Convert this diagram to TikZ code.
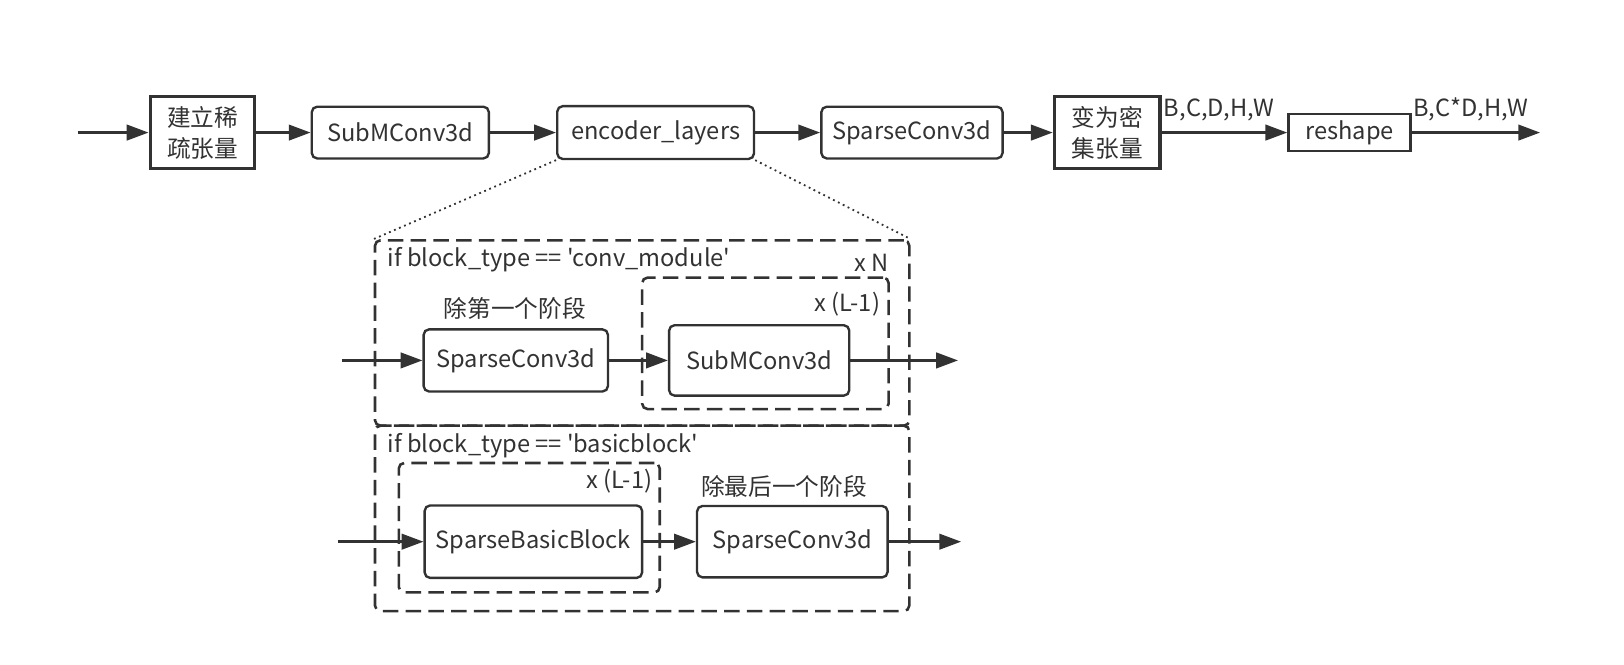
\documentclass[tikz,border=0pt]{standalone}
\usepackage{fontspec}
\setmainfont{Noto Sans CJK SC}[Ligatures=TeXOff]
\usetikzlibrary{arrows.meta}
\definecolor{ink}{HTML}{323232}
\tikzset{
  op/.style={draw, rounded corners=3pt, line width=1.3pt, inner sep=0pt},
  tensor/.style={draw, line width=1.8pt, inner sep=0pt, align=center},
  group/.style={draw, rounded corners=3pt, line width=1.4pt, dash pattern=on 8.5pt off 4pt},
  dots/.style={line width=1pt, dash pattern=on 1pt off 2pt},
  flow/.style={line width=1.5pt, -{Triangle[length=12pt,width=8.5pt]}},
  lbl/.style={inner sep=0pt},
}
\begin{document}
\begin{tikzpicture}[x=0.02cm, y=-0.02cm, color=ink, font=\fontsize{13}{17}\selectfont]
  \useasboundingbox (0,0) rectangle (1568,642);
  % main pipeline
  \coordinate (in) at (75,128);
  \node[tensor, minimum width=2.02cm, minimum height=1.4cm] (tosparse) at (195.5,128) {建立稀\\疏张量};
  \node[op, minimum width=3.42cm, minimum height=1cm] (subm0) at (386.5,128) {SubMConv3d};
  \node[op, minimum width=3.8cm, minimum height=1.02cm] (enc) at (633,128) {encoder\_layers};
  \node[op, minimum width=3.5cm, minimum height=1cm] (down0) at (880.5,128) {SparseConv3d};
  \node[tensor, minimum width=2.04cm, minimum height=1.4cm] (todense) at (1069,128) {变为密\\集张量};
  \node[draw, line width=1.3pt, minimum width=2.36cm, minimum height=0.72cm, inner sep=0pt] (reshape) at (1303,128) {reshape};
  \coordinate (out) at (1487,128);
  \node[lbl] (dense) at (1177,106) {B,C,D,H,W};
  \node[lbl] (flat) at (1420,106) {B,C*D,H,W};
  \draw[flow] (in) -- (tosparse);
  \draw[flow] (tosparse) -- (subm0);
  \draw[flow] (subm0) -- (enc);
  \draw[flow] (enc) -- (down0);
  \draw[flow] (down0) -- (todense);
  \draw[flow] (todense) -- (reshape);
  \draw[flow] (reshape) -- (out);

  % encoder_layers detail
  \node[group, minimum width=10.32cm, minimum height=3.58cm] (convgrp) at (620,321.5) {};
  \node[group, dash phase=6pt, minimum width=10.32cm, minimum height=3.58cm] (basicgrp) at (620,500.5) {};
  \draw[dots] (enc.south west) -- (convgrp.north west);
  \draw[dots] (enc.south east) -- (convgrp.north east);

  % conv_module
  \node[lbl, anchor=west] (convcond) at (374,251) {if block\_type == 'conv\_module'};
  \node[lbl, anchor=east] (convrep) at (858,254) {x N};
  \node[group, minimum width=4.76cm, minimum height=2.54cm] (subloop) at (739,331.5) {};
  \node[lbl, anchor=east] (subrep) at (850,294) {x (L-1)};
  \node[lbl] (firstnote) at (497,298) {除第一个阶段};
  \node[op, minimum width=3.56cm, minimum height=1.2cm] (down1) at (498,348) {SparseConv3d};
  \node[op, minimum width=3.48cm, minimum height=1.36cm] (subm1) at (733,348) {SubMConv3d};
  \coordinate (convin) at (330,348);
  \coordinate (convout) at (925,348);
  \draw[flow] (convin) -- (down1);
  \draw[flow] (down1) -- (subm1);
  \draw[flow] (subm1) -- (convout);

  % basicblock
  \node[lbl, anchor=west] (basiccond) at (374,430) {if block\_type == 'basicblock'};
  \node[group, minimum width=5.04cm, minimum height=2.5cm] (blockloop) at (511,509.5) {};
  \node[lbl, anchor=east] (blockrep) at (630,465) {x (L-1)};
  \node[op, minimum width=4.2cm, minimum height=1.4cm] (block) at (515,523) {SparseBasicBlock};
  \node[lbl] (lastnote) at (757,470) {除最后一个阶段};
  \node[op, minimum width=3.68cm, minimum height=1.38cm] (down2) at (765,523) {SparseConv3d};
  \coordinate (basicin) at (326,523);
  \coordinate (basicout) at (928,523);
  \draw[flow] (basicin) -- (block);
  \draw[flow] (block) -- (down2);
  \draw[flow] (down2) -- (basicout);
\end{tikzpicture}
\end{document}
